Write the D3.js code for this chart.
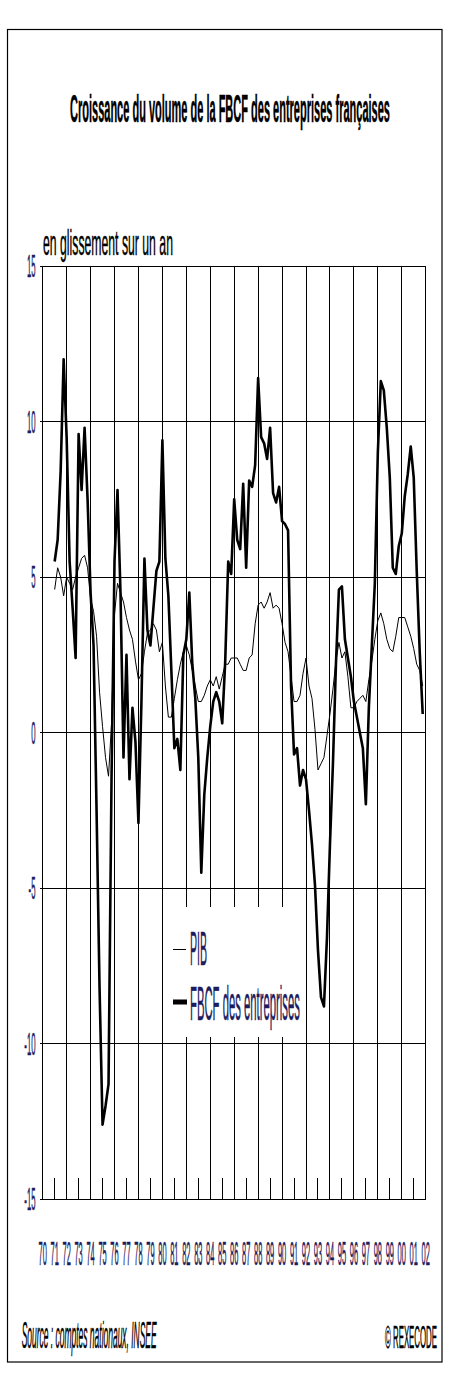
<!DOCTYPE html>
<html><head><meta charset="utf-8">
<script src="https://cdn.jsdelivr.net/npm/d3@7"></script>
<style>
html,body{margin:0;padding:0;background:#fff;}
svg{display:block;font-family:"Liberation Sans",Arial,sans-serif;}
</style>
</head><body>
<svg id="c" width="451" height="1393"></svg>
<script>
// ---- data (year-over-year growth, %, quarterly from 1971T1) ----
const firstYear = 1971;
const pib = [
 4.6,5.3,5.0,4.4,5.0,4.8,4.6,5.0,5.3,5.6,5.7,5.3,4.3,3.9,3.1,1.3,
 0.2,-0.8,-1.4,0.3,3.8,4.8,4.5,4.2,3.7,3.3,3.0,2.3,1.7,1.9,2.6,3.2,
 3.3,3.5,3.3,2.6,2.9,1.5,0.5,0.5,1.1,1.7,2.2,2.6,2.8,2.5,2.0,1.5,
 1.0,1.0,1.2,1.5,1.7,1.5,1.8,1.4,1.8,2.2,2.2,2.4,2.4,2.4,2.2,2.0,
 2.0,2.4,2.5,3.5,4.1,4.2,4.0,4.2,4.5,4.0,4.1,4.0,3.5,2.9,2.6,1.8,
 1.0,1.0,1.2,1.9,2.4,1.5,1.1,0.1,-1.2,-1.0,-0.8,-0.1,0.6,1.4,2.3,2.9,
 2.4,2.6,1.8,0.8,0.8,1.0,1.1,1.2,1.0,1.7,2.3,3.0,3.6,3.85,3.5,3.0,
 2.7,2.6,3.1,3.7,3.7,3.7,3.4,3.1,2.7,2.2,2.0,1.5
];
const fbcf = [
 5.5,6.2,8.4,12.0,9.5,5.5,4.0,2.4,9.6,7.8,9.8,7.5,4.5,2.8,-2.5,-8.2,
 -12.6,-12.0,-11.3,-1.5,5.5,7.8,4.5,-0.8,2.5,-1.5,0.8,-0.3,-2.9,1.0,5.6,3.3,
 2.8,4.0,5.2,5.5,9.4,5.6,4.4,2.0,-0.5,-0.2,-1.2,2.5,3.0,4.5,2.2,1.1,
 -0.8,-4.5,-2.0,-0.8,0.2,1.0,1.3,1.0,0.3,2.3,5.5,5.1,7.5,6.2,5.9,8.0,
 5.3,8.1,7.9,8.6,11.4,9.5,9.3,8.8,9.8,7.7,7.4,7.9,6.8,6.7,6.5,1.5,
 -0.7,-0.5,-1.7,-1.2,-1.5,-2.5,-3.6,-4.9,-7.0,-8.5,-8.8,-6.6,-3.6,-1.0,2.2,4.6,
 4.7,3.0,2.4,1.8,1.0,0.5,0.0,-0.5,-2.3,0.8,2.8,4.8,9.0,11.3,11.0,9.8,
 8.2,5.3,5.1,6.0,6.4,7.6,8.3,9.2,8.2,5.2,2.6,0.6
];
const yTicks = [15,10,5,0,-5,-10,-15];
const yearLabels = ["70","71","72","73","74","75","76","77","78","79","80","81","82","83","84","85","86","87","88","89","90","91","92","93","94","95","96","97","98","99","00","01","02"];
const seriesNames = ["PIB","FBCF des entreprises"];
const titleText = "Croissance du volume de la FBCF des entreprises françaises";
const subtitleText = "en glissement sur un an";
const sourceText = "Source : comptes nationaux, INSEE";
const copyText = "© REXECODE";

// ---- drawing ----
const svg = d3.select("#c");
const x = d3.scaleLinear().domain([1970, 2002]).range([42.7, 425.7]);
const y = d3.scaleLinear().domain([-15, 15]).range([1199.3, 266]);
const navy = "#1c1c60";

// condensed text: natural text squeezed horizontally to a target width
function fitText(px, py, str, size, width, anchor, color, extra) {
  const g = svg.append("g");
  const tx = g.append("text").attr("font-size", size).attr("fill", color)
    .attr("stroke", color).attr("stroke-width", 0.35).attr("vector-effect","non-scaling-stroke")
    .attr("text-anchor", anchor).text(str);
  if (extra) extra(tx);
  const w = tx.node().getComputedTextLength();
  g.attr("transform", `translate(${px},${py}) scale(${width / w},1)`);
  return g;
}

// outer frame
svg.append("rect").attr("x",7.5).attr("y",29.5).attr("width",434.5).attr("height",1332.5)
  .attr("fill","none").attr("stroke","#000").attr("stroke-width",1.2);

// title & subtitle
fitText(70, 122, titleText, 38, 320, "start", "#000", t => t.attr("font-weight","bold"));
fitText(43, 255, subtitleText, 36, 130, "start", "#000");

const grid = svg.append("g").attr("shape-rendering","crispEdges").attr("stroke","#000").attr("stroke-width",1);
const years = d3.range(1970, 2003);
grid.selectAll("line.v").data(years.filter(v => v % 2 === 0)).join("line")
  .attr("x1", d => x(d)).attr("x2", d => x(d)).attr("y1", y(15)).attr("y2", y(-15));
grid.selectAll("line.m").data(years.filter(v => v % 2 === 1)).join("line")
  .attr("x1", d => x(d)).attr("x2", d => x(d)).attr("y1", y(-15)).attr("y2", y(-15) - 21);
grid.selectAll("line.h").data(yTicks).join("line")
  .attr("x1", x(1970) - 3).attr("x2", x(2002)).attr("y1", d => y(d)).attr("y2", d => y(d));

// legend background (covers gridlines)
svg.append("rect").attr("x",163.5).attr("y",907).attr("width",138).attr("height",130).attr("fill","#fff");

// y tick labels
svg.selectAll("g.yt").data(yTicks).join("g")
  .attr("transform", d => `translate(35.5,${y(d) + 11}) scale(0.25,1)`)
  .append("text").attr("text-anchor","end").attr("font-size",31).attr("fill",navy)
  .attr("stroke",navy).attr("stroke-width",0.35).attr("vector-effect","non-scaling-stroke").text(d => d);

// x labels
svg.selectAll("g.xt").data(yearLabels).join("g")
  .attr("transform", (d,i) => `translate(${x(1970 + i)},1265) scale(0.22,1)`)
  .append("text").attr("text-anchor","middle").attr("font-size",34).attr("fill",navy)
  .attr("stroke",navy).attr("stroke-width",0.35).attr("vector-effect","non-scaling-stroke").text(d => d);

// series
const t = i => firstYear + i / 4;
const line = d3.line().x((d,i) => x(t(i))).y(d => y(d));
svg.append("path").datum(pib).attr("d", line).attr("fill","none").attr("stroke","#000").attr("stroke-width",1).attr("stroke-linejoin","round");
svg.append("path").datum(fbcf).attr("d", line).attr("fill","none").attr("stroke","#000").attr("stroke-width",2.6).attr("stroke-linejoin","round");

// legend
svg.append("line").attr("x1",173).attr("x2",186).attr("y1",949.5).attr("y2",949.5).attr("stroke","#000").attr("stroke-width",1);
svg.append("rect").attr("x",173).attr("y",999.5).attr("width",14).attr("height",5).attr("fill","#000");
fitText(190, 965, seriesNames[0], 48, 17, "start", navy);
fitText(190, 1020, seriesNames[1], 48, 110, "start", navy);

// footer
fitText(21.7, 1348, sourceText, 37, 135, "start", "#000", t => t.attr("font-style","italic"));
fitText(437, 1348, copyText, 32, 52, "end", "#000");
</script>
</body></html>
